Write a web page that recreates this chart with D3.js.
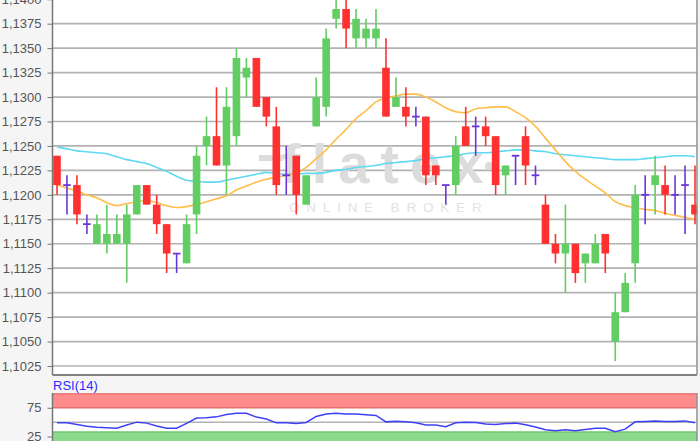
<!DOCTYPE html>
<html>
<head>
<meta charset="utf-8">
<script src="https://cdn.jsdelivr.net/npm/d3@7"></script>
<style>
html,body{margin:0;padding:0;background:#f5f5f5;}
svg{display:block;}
text{font-family:"Liberation Sans",Arial,sans-serif;}
</style>
</head>
<body>
<svg id="chart" width="700" height="441"></svg>
<script>
// ---------- DATA ----------
const openP  = [1.1240,1.1210,1.1210,1.1170,1.1150,1.1150,1.1150,1.1150,1.1180,1.1210,1.1190,1.1170,1.1140,1.1130,1.1180,1.1250,1.1260,1.1230,1.1260,1.1320,1.1340,1.1300,1.1270,1.1220,1.1240,1.1190,1.1270,1.1290,1.1380,1.1390,1.1360,1.1360,1.1360,1.1330,1.1290,1.1290,1.1280,1.1280,1.1230,1.1210,1.1210,1.1270,1.1270,1.1270,1.1260,1.1220,1.1240,1.1260,1.1220,1.1190,1.1150,1.1140,1.1150,1.1130,1.1130,1.1160,1.1050,1.1080,1.1130,1.1200,1.1210,1.1210,1.1200,1.1210,1.1190];
const highP  = [1.1240,1.1220,1.1220,1.1180,1.1180,1.1190,1.1180,1.1190,1.1210,1.1210,1.1200,1.1170,1.1140,1.1180,1.1250,1.1280,1.1310,1.1310,1.1350,1.1340,1.1340,1.1300,1.1290,1.1250,1.1240,1.1220,1.1320,1.1370,1.1405,1.1405,1.1390,1.1380,1.1390,1.1360,1.1320,1.1310,1.1290,1.1280,1.1230,1.1210,1.1260,1.1290,1.1280,1.1280,1.1260,1.1230,1.1240,1.1270,1.1230,1.1200,1.1160,1.1190,1.1150,1.1140,1.1160,1.1160,1.1100,1.1120,1.1210,1.1220,1.1240,1.1230,1.1220,1.1230,1.1230];
const lowP   = [1.1200,1.1180,1.1170,1.1160,1.1150,1.1140,1.1150,1.1110,1.1180,1.1190,1.1160,1.1120,1.1120,1.1130,1.1160,1.1230,1.1230,1.1200,1.1250,1.1300,1.1290,1.1270,1.1200,1.1200,1.1180,1.1190,1.1270,1.1280,1.1370,1.1350,1.1350,1.1350,1.1350,1.1280,1.1290,1.1270,1.1270,1.1210,1.1210,1.1190,1.1200,1.1250,1.1240,1.1250,1.1200,1.1200,1.1210,1.1210,1.1210,1.1150,1.1130,1.1100,1.1110,1.1110,1.1130,1.1120,1.1030,1.1080,1.1110,1.1170,1.1180,1.1180,1.1180,1.1160,1.1170];
const closeP = [1.1210,1.1210,1.1180,1.1170,1.1170,1.1160,1.1160,1.1180,1.1210,1.1190,1.1170,1.1140,1.1140,1.1170,1.1240,1.1260,1.1230,1.1290,1.1340,1.1330,1.1290,1.1280,1.1210,1.1220,1.1200,1.1220,1.1300,1.1360,1.1390,1.1370,1.1380,1.1370,1.1370,1.1280,1.1300,1.1280,1.1280,1.1220,1.1220,1.1210,1.1250,1.1250,1.1270,1.1260,1.1210,1.1230,1.1240,1.1230,1.1220,1.1150,1.1140,1.1150,1.1120,1.1140,1.1150,1.1140,1.1080,1.1110,1.1200,1.1200,1.1220,1.1200,1.1200,1.1210,1.1180];
const maFast = [1.1210,1.1207,1.1204,1.1200,1.1197,1.1192,1.1189,1.1191,1.1193,1.1194,1.1192,1.1189,1.1187,1.1188,1.1190,1.1193,1.1196,1.1199,1.1205,1.1209,1.1213,1.1216,1.1218,1.1220,1.1222,1.1228,1.1237,1.1246,1.1257,1.1267,1.1278,1.1286,1.1295,1.1299,1.1301,1.1303,1.1303,1.1300,1.1295,1.1289,1.1285,1.1284,1.1288,1.1289,1.1290,1.1290,1.1285,1.1279,1.1270,1.1258,1.1246,1.1234,1.1224,1.1216,1.1209,1.1202,1.1193,1.1189,1.1187,1.1185,1.1184,1.1181,1.1179,1.1177,1.1175];
const maSlow = [1.1249,1.1247,1.1245,1.1244,1.1243,1.1242,1.1239,1.1236,1.1234,1.1232,1.1228,1.1224,1.1219,1.1215,1.1214,1.1213,1.1213,1.1215,1.1217,1.1219,1.1221,1.1223,1.1222,1.1221,1.1221,1.1222,1.1222,1.1223,1.1225,1.1226,1.1228,1.1229,1.1230,1.1232,1.1233,1.1234,1.1235,1.1237,1.1238,1.1239,1.1240,1.1242,1.1243,1.1243,1.1244,1.1245,1.1246,1.1246,1.1245,1.1244,1.1242,1.1241,1.1240,1.1239,1.1238,1.1237,1.1236,1.1236,1.1236,1.1237,1.1238,1.1239,1.1240,1.1240,1.1239];
const rsiVals = [48.8,48.8,45.8,43,41.3,40.3,39.5,45,50,48.3,43.3,39.5,39.5,47.8,57.2,57.5,59.2,63.3,65.5,65.5,58.8,55.5,48.8,48.8,47.8,49.5,60,64.2,65.5,64.2,64.2,63,61.7,50.5,51.7,50.8,48.8,45,45,42.2,48.8,50,49.2,46.7,45.8,47.5,48.3,45.3,41.7,36.7,35,36.7,35,37.2,39.5,39.5,33.3,37.8,50.5,51.3,52.2,51.2,51.3,52.2,48.8];
const priceTicks = [1.1025,1.1050,1.1075,1.1100,1.1125,1.1150,1.1175,1.1200,1.1225,1.1250,1.1275,1.1300,1.1325,1.1350,1.1375,1.1400];
const priceTickLabels = ["1,1025","1,1050","1,1075","1,1100","1,1125","1,1150","1,1175","1,1200","1,1225","1,1250","1,1275","1,1300","1,1325","1,1350","1,1375","1,1400"];
const rsiTicks = [75,25];
const rsiTickLabels = ["75","25"];
const rsiBands = {overbought:[75,100], oversold:[0,33], mid:50};

// ---------- LAYOUT ----------
const svg = d3.select("#chart");
const L = 52.5, R = 697, mainTop = -20, mainBot = 375, rsiTop = 393, rsiBot = 470;

const x = d3.scaleLinear().domain([0, 64]).range([57, 695]);
const y = d3.scaleLinear().domain([1.1025, 1.1400]).range([366, -0.75]);
const yr = d3.scaleLinear().domain([0, 100]).range([450.9, 393.4]);

const defs = svg.append("defs");
defs.append("clipPath").attr("id","clipMain").append("rect")
  .attr("x", L).attr("y", mainTop).attr("width", R - L).attr("height", mainBot - mainTop);
defs.append("clipPath").attr("id","clipRsi").append("rect")
  .attr("x", L).attr("y", rsiTop).attr("width", R - L).attr("height", rsiBot - rsiTop);

// backgrounds
svg.append("rect").attr("width",700).attr("height",441).attr("fill","#f5f5f5");
svg.append("rect").attr("x",L).attr("y",mainTop).attr("width",R-L).attr("height",mainBot-mainTop).attr("fill","#fff");
svg.append("rect").attr("x",L).attr("y",rsiTop).attr("width",R-L).attr("height",rsiBot-rsiTop).attr("fill","#fff");

// grid
const main = svg.append("g").attr("clip-path","url(#clipMain)");
main.selectAll("line.grid").data(priceTicks).join("line")
  .attr("x1",L).attr("x2",R).attr("y1",d=>y(d)).attr("y2",d=>y(d))
  .attr("stroke","#b2b2b2").attr("stroke-width",1.7);

// watermark
const wm = main.append("g");
wm.append("rect").attr("x",259).attr("y",155).attr("width",24).attr("height",6).attr("fill","#dcdcdc");
wm.append("text").attr("x",282).attr("y",183).attr("font-size",56).attr("font-weight","bold")
  .attr("letter-spacing",11).attr("fill","#dcdcdc").text("flatex");
wm.append("circle").attr("cx",489).attr("cy",166).attr("r",4).attr("fill","#dcdcdc");
wm.append("text").attr("x",289).attr("y",212).attr("font-size",13.5)
  .attr("letter-spacing",6.8).attr("fill","#e2e2e2").text("ONLINE BROKER");

// moving averages
const lineGen = d3.line().x((d,i)=>x(i)).y(d=>y(d)).curve(d3.curveMonotoneX);
main.append("path").datum(maSlow).attr("d",lineGen).attr("fill","none")
  .attr("stroke","#5fd8f2").attr("stroke-width",1.6);
main.append("path").datum(maFast).attr("d",lineGen).attr("fill","none")
  .attr("stroke","#ffbd4a").attr("stroke-width",1.6);

// candles
const candles = openP.map((o,i)=>({i,o,h:highP[i],l:lowP[i],c:closeP[i]}));
const colorOf = d => d.c > d.o ? "#62cd62" : (d.c < d.o ? "#ff3030" : "#6a35d8");
const bw = 7.6;
const cg = main.append("g");
cg.selectAll("line.wick").data(candles).join("line")
  .attr("x1",d=>x(d.i)).attr("x2",d=>x(d.i))
  .attr("y1",d=>y(d.h)).attr("y2",d=>y(d.l))
  .attr("stroke",colorOf).attr("stroke-width",1.6);
cg.selectAll("rect.body").data(candles.filter(d=>d.c!==d.o)).join("rect")
  .attr("x",d=>x(d.i)-bw/2).attr("width",bw)
  .attr("y",d=>y(Math.max(d.o,d.c))).attr("height",d=>Math.abs(y(d.o)-y(d.c)))
  .attr("fill",colorOf);
cg.selectAll("line.doji").data(candles.filter(d=>d.c===d.o)).join("line")
  .attr("x1",d=>x(d.i)-bw/2).attr("x2",d=>x(d.i)+bw/2)
  .attr("y1",d=>y(d.c)).attr("y2",d=>y(d.c))
  .attr("stroke",colorOf).attr("stroke-width",1.8);

// main frame
svg.append("line").attr("x1",L).attr("x2",R).attr("y1",mainBot).attr("y2",mainBot).attr("stroke","#808080").attr("stroke-width",1.8);
svg.append("line").attr("x1",R).attr("x2",R).attr("y1",mainTop).attr("y2",mainBot).attr("stroke","#909090").attr("stroke-width",1.5);

// main axis
const yAxis = d3.axisLeft(y).tickValues(priceTicks).tickFormat((d,i)=>priceTickLabels[i]).tickSize(5).tickPadding(6);
const ga = svg.append("g").attr("transform",`translate(${L},0)`).call(yAxis);
ga.select(".domain").attr("stroke","#777").attr("stroke-width",1.5).attr("d",`M0,${mainTop}V${mainBot}`);
ga.selectAll(".tick line").attr("stroke","#777");
ga.selectAll(".tick text").attr("fill","#555").attr("font-size",13).attr("font-family","Liberation Sans, Arial, sans-serif");

// RSI panel
const rg = svg.append("g").attr("clip-path","url(#clipRsi)");
rg.append("rect").attr("x",L).attr("width",R-L)
  .attr("y",yr(rsiBands.overbought[1])).attr("height",yr(rsiBands.overbought[0])-yr(rsiBands.overbought[1]))
  .attr("fill","#ff8c8c");
rg.append("line").attr("x1",L).attr("x2",R).attr("y1",yr(rsiBands.overbought[0])).attr("y2",yr(rsiBands.overbought[0]))
  .attr("stroke","#e46e6e").attr("stroke-width",1.5);
rg.append("line").attr("x1",L).attr("x2",R).attr("y1",yr(100)+0.5).attr("y2",yr(100)+0.5)
  .attr("stroke","#e46e6e").attr("stroke-width",1.2);
rg.append("rect").attr("x",L).attr("width",R-L)
  .attr("y",yr(rsiBands.oversold[1])).attr("height",yr(rsiBands.oversold[0])-yr(rsiBands.oversold[1]))
  .attr("fill","#8cd88c");
rg.append("line").attr("x1",L).attr("x2",R).attr("y1",yr(rsiBands.oversold[1])).attr("y2",yr(rsiBands.oversold[1]))
  .attr("stroke","#72c872").attr("stroke-width",1.5);
rg.append("line").attr("x1",L).attr("x2",R).attr("y1",yr(rsiBands.mid)).attr("y2",yr(rsiBands.mid))
  .attr("stroke","#b2b2b2").attr("stroke-width",1.5);
const rsiLine = d3.line().x((d,i)=>x(i)).y(d=>yr(d));
rg.append("path").datum(rsiVals).attr("d",rsiLine).attr("fill","none")
  .attr("stroke","#3f3ff5").attr("stroke-width",1.5);
svg.append("line").attr("x1",R).attr("x2",R).attr("y1",rsiTop).attr("y2",441).attr("stroke","#909090").attr("stroke-width",1.5);

const rAxis = d3.axisLeft(yr).tickValues(rsiTicks).tickFormat((d,i)=>rsiTickLabels[i]).tickSize(5).tickPadding(6);
const gr = svg.append("g").attr("transform",`translate(${L},0)`).call(rAxis);
gr.select(".domain").attr("stroke","#777").attr("stroke-width",1.5).attr("d",`M0,${rsiTop}V${rsiBot}`);
gr.selectAll(".tick line").attr("stroke","#777");
gr.selectAll(".tick text").attr("fill","#555").attr("font-size",13).attr("font-family","Liberation Sans, Arial, sans-serif");

svg.append("text").attr("x",53).attr("y",389.5).attr("font-size",13).attr("fill","#2b2bff").text("RSI(14)");
</script>
</body>
</html>
